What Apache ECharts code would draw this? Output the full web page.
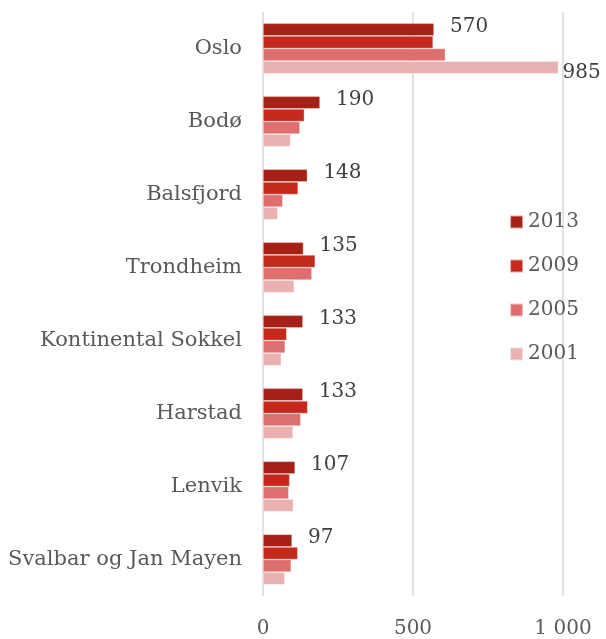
<!DOCTYPE html>
<html><head><meta charset="utf-8">
<script src="https://cdn.jsdelivr.net/npm/echarts@6/dist/echarts.min.js"></script>
<style>html,body{margin:0;padding:0;background:#fff}#c{width:606px;height:639px}</style>
</head><body><div id="c"></div>
<script>
var categories = ['Oslo','Bodø','Balsfjord','Trondheim','Kontinental Sokkel','Harstad','Lenvik','Svalbar og Jan Mayen'];
var years = ['2013','2009','2005','2001'];
var v2013 = [570,190,148,135,133,133,107,97];
var v2009 = [567,138,117,174,79,149,89,116];
var v2005 = [608,123,66,163,74,126,86,94];
var v2001 = [985,92,49,104,61,100,101,73];
var xTicks = [0,500,1000];

var colors = ['#A52015','#C4291C','#DD706E','#E9B1B0'];
var FONT = 'DejaVu Serif';
var vals = [v2013,v2009,v2005,v2001];
function fmt(n){return String(n).replace(/\B(?=(\d{3})+(?!\d))/g,' ');}
var series = years.map(function(y,i){
  var data = vals[i].map(function(v,j){
    var d = {value:v};
    if (i===0) d.label = {show:true, position:'right', distance:16, offset:[0,-3]};
    if (i===3 && v===Math.max(v2013[j],v2009[j],v2005[j],v2001[j]) && v>v2013[j]+100) d.label={show:true,position:'right',distance:4,offset:[0,5]};
    return d;
  });
  return {
    name:y, type:'bar', data:data, barGap:'0%', barCategoryGap:'31%',
    itemStyle:{color:colors[i], borderColor:'rgba(255,255,255,0.6)', borderWidth:0.6},
    label:{show:false, color:'#404040', fontFamily:FONT, fontSize:20, formatter:function(p){return fmt(p.value);}},
    emphasis:{disabled:true}
  };
});
var chart = echarts.init(document.getElementById('c'), null, {renderer:'canvas'});
chart.setOption({
  animation:false,
  grid:{left:263, right:43, top:12, bottom:42, containLabel:false},
  legend:{orient:'vertical', right:22, top:207, itemGap:24, itemWidth:13, itemHeight:13, icon:'rect',
    textStyle:{fontFamily:FONT, fontSize:20, color:'#595959'}, data:years},
  xAxis:{type:'value', min:0, max:1000, interval:500,
    axisLine:{show:false}, axisTick:{show:false},
    splitLine:{lineStyle:{color:'#d9d9d9', width:1.5}},
    axisLabel:{fontFamily:FONT, fontSize:20, color:'#595959', margin:23, formatter:function(v){return xTicks.indexOf(v)>=0?fmt(v):'';}}},
  yAxis:{type:'category', inverse:true, data:categories,
    axisLine:{show:false}, axisTick:{show:false},
    axisLabel:{fontFamily:FONT, fontSize:21, color:'#595959', margin:21}},
  series:series
});
</script></body></html>
